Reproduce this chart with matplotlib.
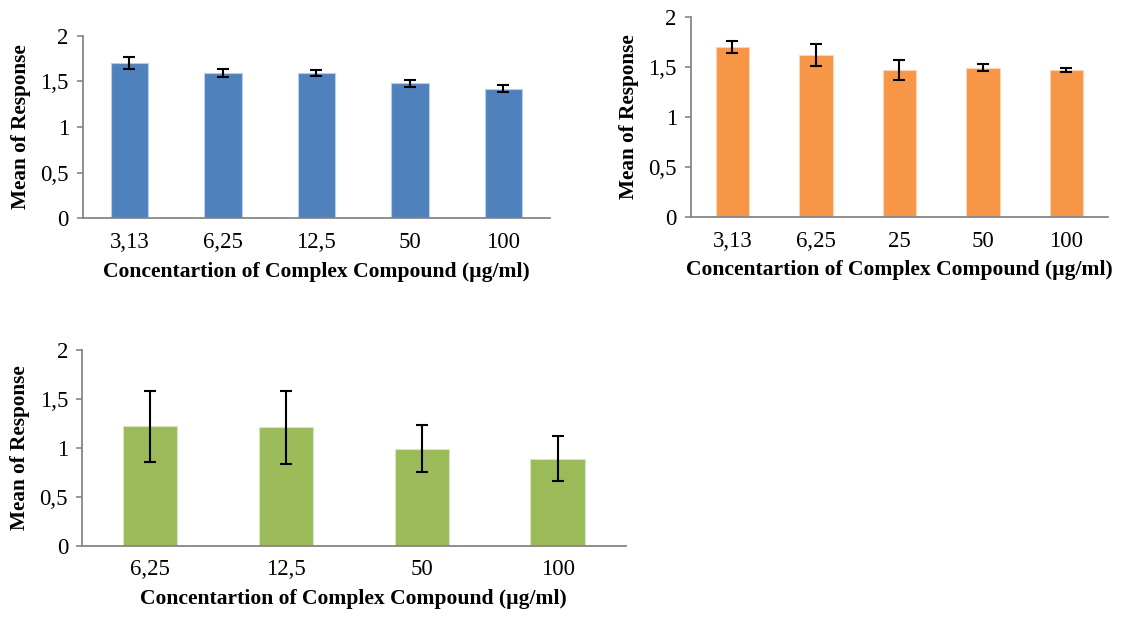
import numpy as np
import matplotlib
matplotlib.use("Agg")
import matplotlib.pyplot as plt

plt.rcParams['font.family'] = ['Liberation Serif', 'DejaVu Serif']

# data
conc_a = ['3,13', '6,25', '12,5', '50', '100']
mean_a = [1.70, 1.59, 1.59, 1.48, 1.42]
err_a = [0.07, 0.045, 0.035, 0.038, 0.036]

conc_b = ['3,13', '6,25', '25', '50', '100']
mean_b = [1.70, 1.62, 1.47, 1.495, 1.47]
err_b = [0.06, 0.11, 0.097, 0.032, 0.018]

conc_c = ['6,25', '12,5', '50', '100']
mean_c = [1.22, 1.21, 0.99, 0.89]
err_c = [0.365, 0.372, 0.242, 0.233]

y_ticks = [0, 0.5, 1, 1.5, 2]
y_ticklabels = ['0', '0,5', '1', '1,5', '2']

xlabel = 'Concentartion of Complex Compound (\u00b5g/ml)'
ylabel = 'Mean of Response'

W, H = 1125, 618
axis_grey = '#868686'


def px_box(left, top, right, bottom):
    # pixel box -> figure fraction rect
    return [left / W, 1 - bottom / H, (right - left) / W, (bottom - top) / H]


def bar_panel(ax, cats, vals, errs, color, edge):
    x = np.arange(len(cats))
    ax.bar(x, vals, width=0.4, color=color, edgecolor=edge, linewidth=0.8, zorder=2)
    ax.errorbar(x, vals, yerr=errs, fmt='none', ecolor='black', elinewidth=1.5,
                capsize=4.5, capthick=1.5, zorder=3)
    ax.set_xlim(-0.5, len(cats) - 0.5)
    ax.set_ylim(0, 2)
    ax.set_xticks(x)
    ax.set_xticklabels(cats, fontsize=16.5)
    ax.set_yticks(y_ticks)
    ax.set_yticklabels(y_ticklabels, fontsize=16.5)
    for s in ['top', 'right']:
        ax.spines[s].set_visible(False)
    for s in ['left', 'bottom']:
        ax.spines[s].set_color(axis_grey)
        ax.spines[s].set_linewidth(1.3)
    ax.tick_params(axis='x', length=0, pad=10)
    ax.tick_params(axis='y', direction='out', length=4, width=1.2, color=axis_grey, pad=6)
    ax.set_xlabel(xlabel, fontsize=15.6, fontweight='bold', labelpad=6)
    ax.set_ylabel(ylabel, fontsize=15.3, fontweight='bold')
    width_px = ax.get_position().width * W
    ax.yaxis.set_label_coords(-52 / width_px, 0.5)


fig = plt.figure(figsize=(11.25, 6.18), dpi=100)

ax1 = fig.add_axes(px_box(82.7, 35.7, 550, 218.3))
bar_panel(ax1, conc_a, mean_a, err_a, '#4F81BD', '#B9CDE5')

ax2 = fig.add_axes(px_box(690.7, 17.3, 1108, 216.7))
bar_panel(ax2, conc_b, mean_b, err_b, '#F79646', '#FCD5B5')

ax3 = fig.add_axes(px_box(82, 350, 625.5, 545.5))
bar_panel(ax3, conc_c, mean_c, err_c, '#9BBB59', '#D7E4BD')

fig.savefig('out.png', dpi=100)
